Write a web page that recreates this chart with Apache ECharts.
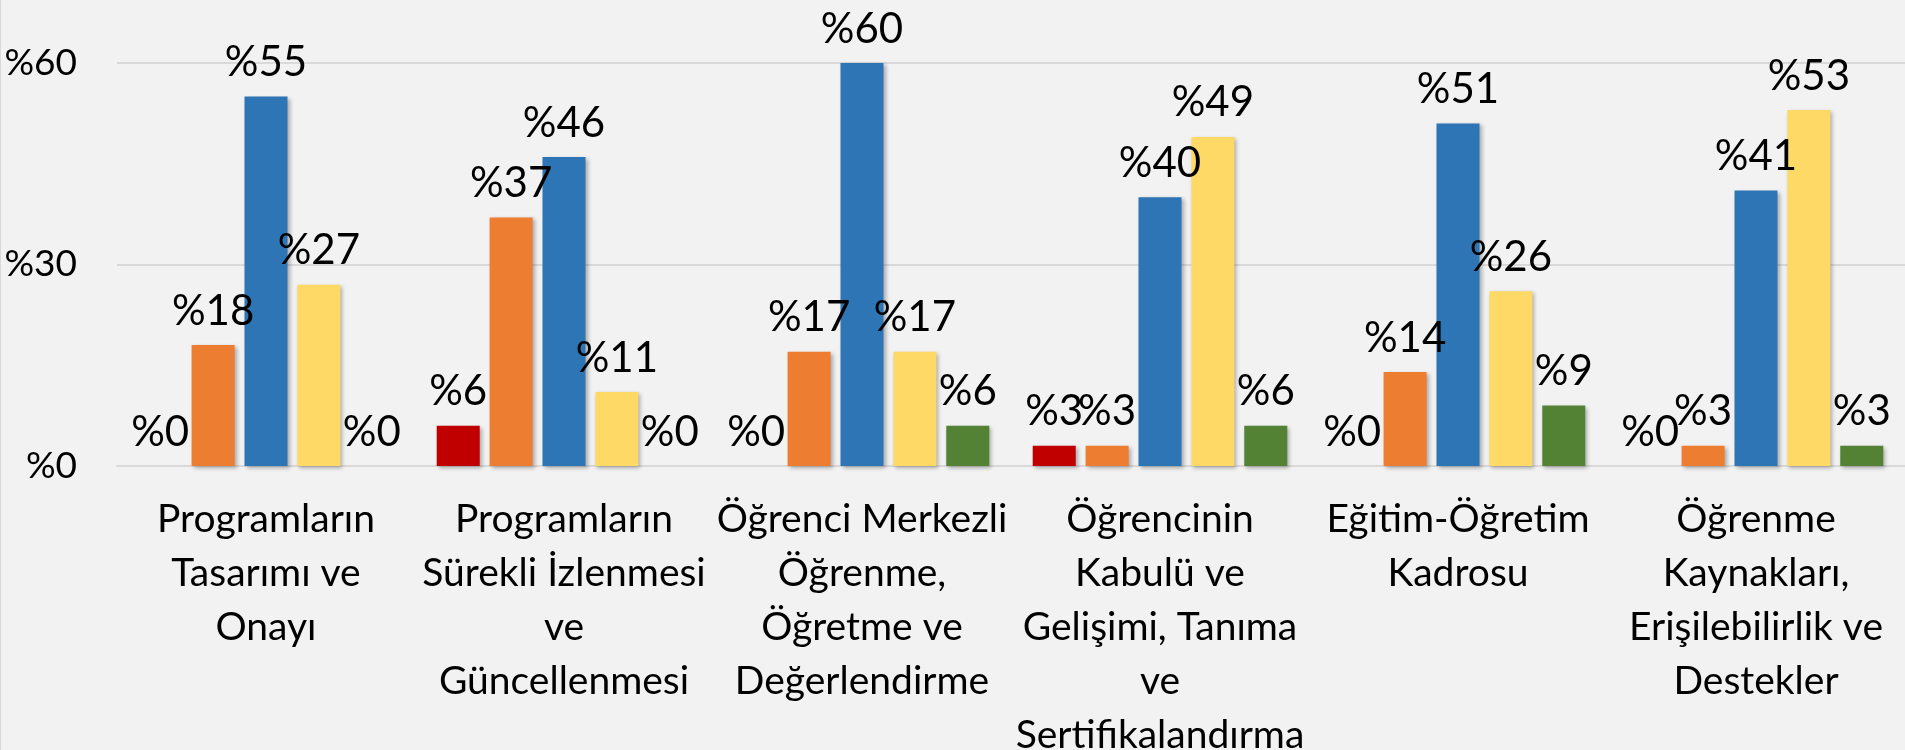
<!DOCTYPE html>
<html>
<head>
<meta charset="utf-8">
<style>
  html, body { margin: 0; padding: 0; background: #f2f2f2; }
  #chart { width: 1905px; height: 750px; box-sizing: border-box; border-left: 1px solid #d9d9d9; }
</style>
<script src="https://cdn.jsdelivr.net/npm/echarts@6/dist/echarts.min.js"></script>
</head>
<body>
<div id="chart"></div>
<script>
// kategori etiketleri (satır kırılımları orijinaldeki gibi)
const categories = [
  'Programların\nTasarımı ve\nOnayı',
  'Programların\nSürekli İzlenmesi\nve\nGüncellenmesi',
  'Öğrenci Merkezli\nÖğrenme,\nÖğretme ve\nDeğerlendirme',
  'Öğrencinin\nKabulü ve\nGelişimi, Tanıma\nve\nSertifikalandırma',
  'Eğitim-Öğretim\nKadrosu',
  'Öğrenme\nKaynakları,\nErişilebilirlik ve\nDestekler'
]
const yTicks = [0, 30, 60]

// seri değerleri (%)
const redValues = [0, 6, 0, 3, 0, 0]
const orangeValues = [18, 37, 17, 3, 14, 3]
const blueValues = [55, 46, 60, 40, 51, 41]
const yellowValues = [27, 11, 17, 49, 26, 53]
const greenValues = [0, 0, 6, 6, 9, 3]

const colors = ['#C00000', '#ED7D31', '#2E75B6', '#FFD966', '#548235']
const FONT = 'Lato'

function makeSeries(data, color) {
  return {
    type: 'bar',
    data: data,
    barWidth: 43,
    barGap: '23%',
    itemStyle: {
      color: color,
      shadowColor: 'rgba(0,0,0,0.3)',
      shadowBlur: 4,
      shadowOffsetX: 2,
      shadowOffsetY: 2
    },
    label: {
      show: true,
      position: 'top',
      distance: 13,
      formatter: p => '%' + p.value,
      color: '#000',
      fontFamily: FONT,
      fontSize: 42
    },
    animation: false
  }
}

const chart = echarts.init(document.getElementById('chart'))
chart.setOption({
  backgroundColor: '#f2f2f2',
  grid: { left: 116, right: 0, top: 63, bottom: 284, outerBoundsMode: 'none' },
  xAxis: {
    type: 'category',
    data: categories,
    axisLine: { show: true, lineStyle: { color: '#d9d9d9', width: 2 } },
    axisTick: { show: false },
    axisLabel: {
      interval: 0,
      margin: 26,
      color: '#000',
      fontFamily: FONT,
      fontSize: 39,
      lineHeight: 54
    }
  },
  yAxis: {
    type: 'value',
    min: yTicks[0],
    max: yTicks[yTicks.length - 1],
    interval: 30,
    axisLine: { show: false },
    axisTick: { show: false },
    splitLine: { lineStyle: { color: '#d9d9d9', width: 2 } },
    axisLabel: {
      margin: 40,
      color: '#000',
      fontFamily: FONT,
      fontSize: 37,
      formatter: v => '%' + v
    }
  },
  series: [
    makeSeries(redValues, colors[0]),
    makeSeries(orangeValues, colors[1]),
    makeSeries(blueValues, colors[2]),
    makeSeries(yellowValues, colors[3]),
    makeSeries(greenValues, colors[4])
  ]
})
</script>
</body>
</html>
